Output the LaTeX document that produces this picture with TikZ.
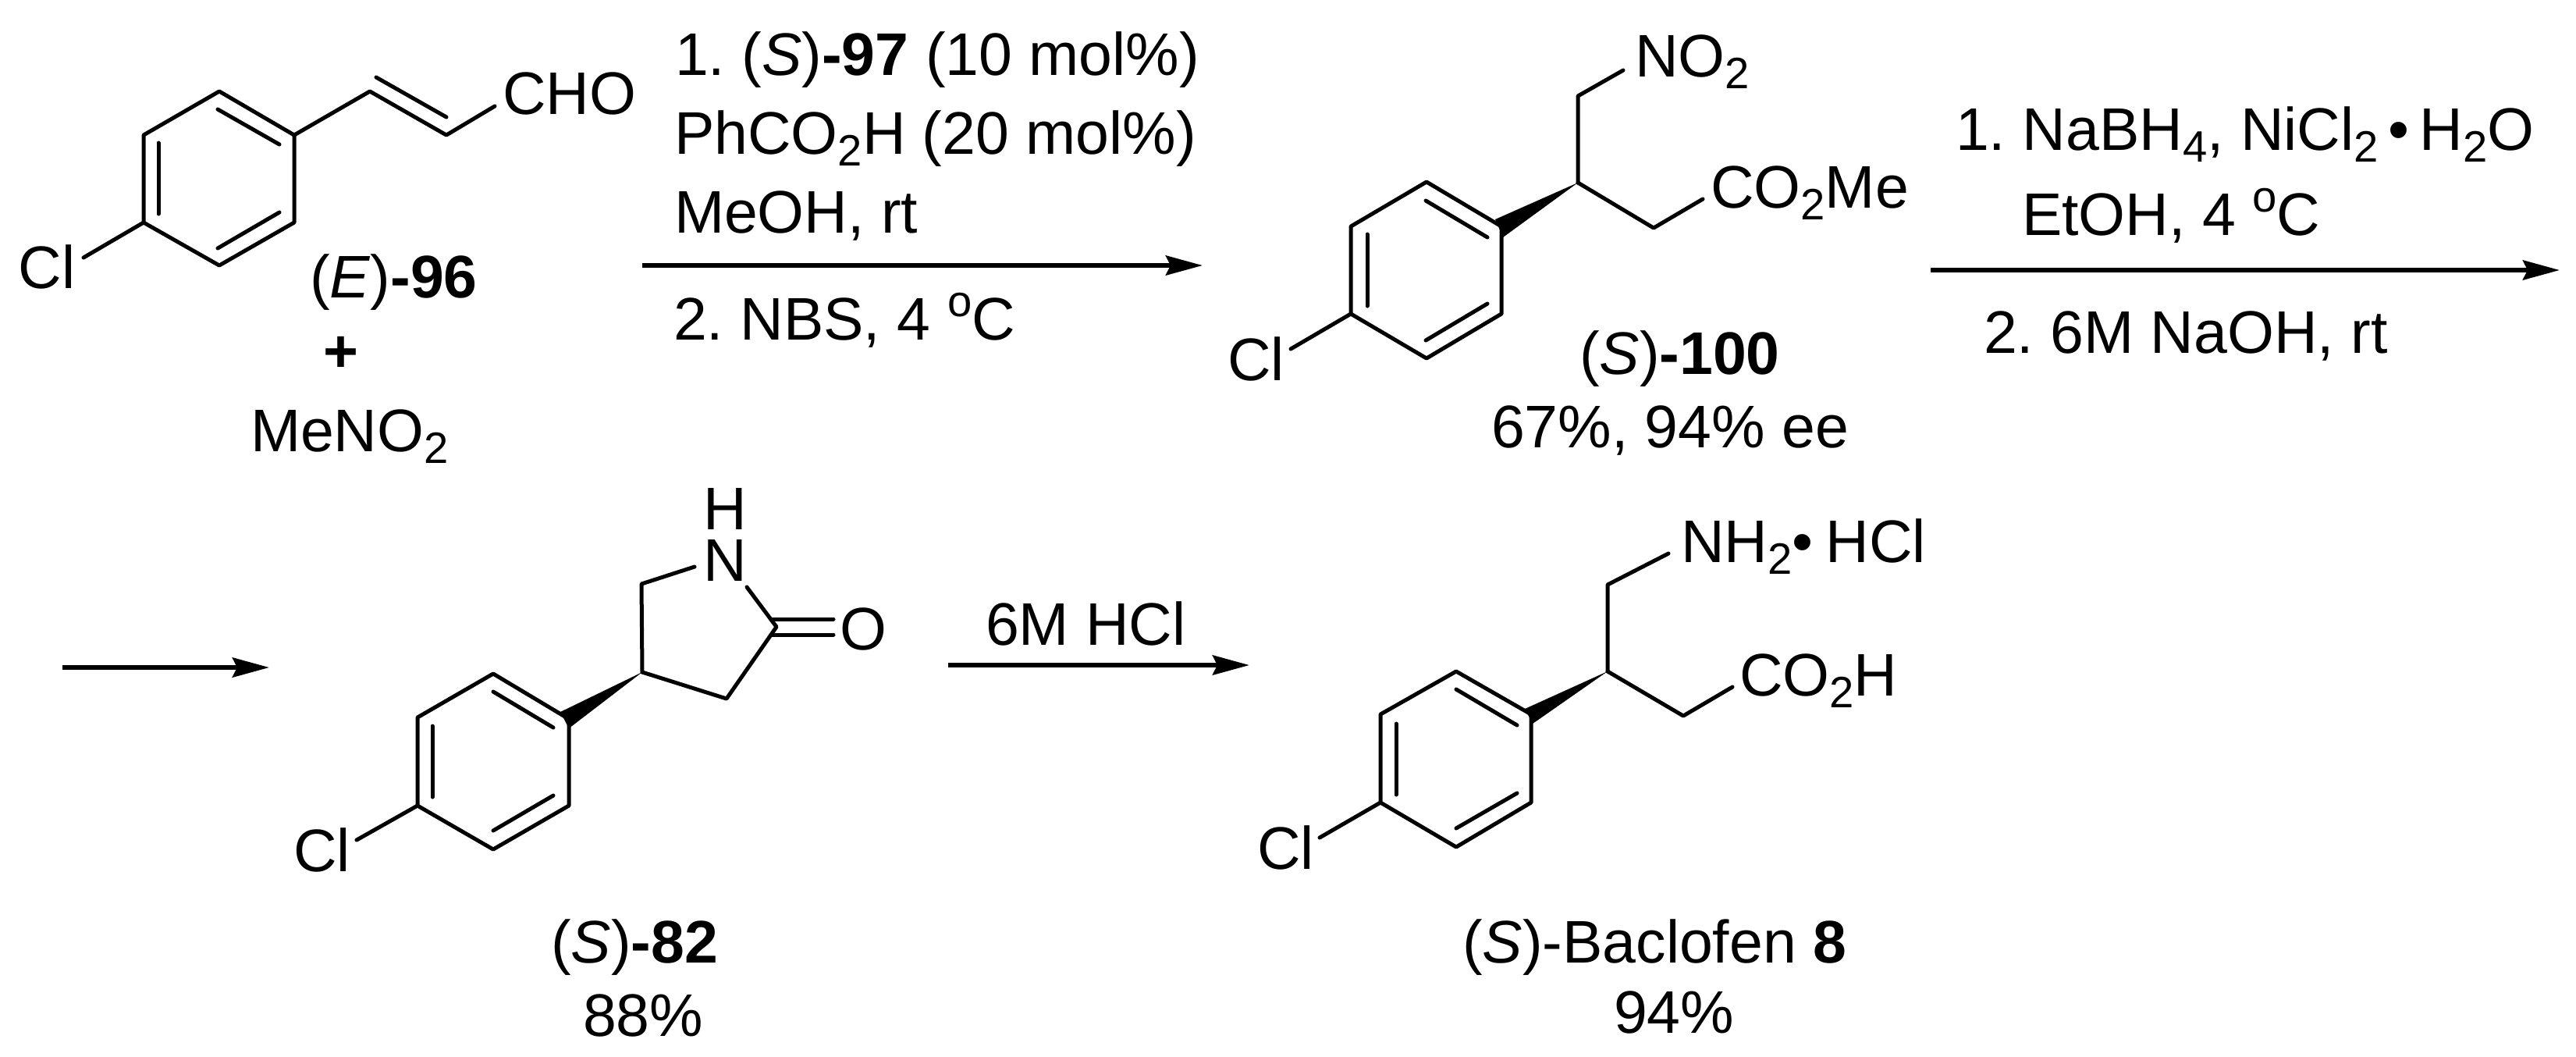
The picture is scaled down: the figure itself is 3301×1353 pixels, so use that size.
\documentclass[tikz,border=0pt]{standalone}
\usepackage{fontspec}
\setmainfont{Liberation Sans}
\usetikzlibrary{arrows.meta}
\frenchspacing
\begin{document}
\begin{tikzpicture}[x=0.01cm,y=-0.01cm,
  bond/.style={line width=0.05cm,line cap=round,line join=round},
  rxn/.style={line width=0.06cm,-{Stealth[length=0.47cm,width=0.25cm,inset=0.06cm]}},
  lab/.style={anchor=base west,inner sep=0pt,outer sep=0pt,font=\fontsize{21.9}{26}\selectfont}]
\newcommand{\myfontsub}[1]{%
\raisebox{-0.15cm}{\fontsize{16}{20}\selectfont{#1}}%
}\newcommand{\myfontsup}[1]{%
\raisebox{0.3cm}{\fontsize{16}{20}\selectfont{#1}}%
}%Page
\useasboundingbox (0,0) rectangle (3301,1353);
%Aldehyde: ring
\coordinate (a1) at (281,117);
\coordinate (a2) at (377,173);
\coordinate (a3) at (377,285);
\coordinate (a4) at (281,340);
\coordinate (a5) at (184,285);
\coordinate (a6) at (184,173);
\draw [bond] (a1) -- (a2) -- (a3) -- (a4) -- (a5) -- (a6) -- cycle;
%Aldehyde: inner lines of the ring
\coordinate (ai1) at (279,140);
\coordinate (ai2) at (358,185);
\coordinate (ai3) at (358,272);
\coordinate (ai4) at (279,318);
\coordinate (ai5) at (203,274);
\coordinate (ai6) at (203,183);
\draw [bond] (ai1) -- (ai2);
\draw [bond] (ai3) -- (ai4);
\draw [bond] (ai5) -- (ai6);
%Aldehyde: side chain
\coordinate (v1) at (474,117);
\coordinate (v2) at (572,173);
\coordinate (v3) at (634,136);
\coordinate (vi1) at (482,99);
\coordinate (vi2) at (572,150);
\coordinate (acl) at (107,330);
\draw [bond] (a2) -- (v1) -- (v2) -- (v3);
\draw [bond] (vi1) -- (vi2);
\draw [bond] (a5) -- (acl);
\node [lab] (cho) at (644,146) {CHO};
\node [lab] (clA) at (24,369) {Cl};
\node [lab] (nameA) at (397,381) {(\textit{E})\textbf{-96}};
\node [lab] (plus) at (414,476) {\textbf{+}};
\node [lab] (meno) at (321,578) {MeNO\myfontsub{2}};
%First arrow
\coordinate (r1s) at (823,340);
\coordinate (r1e) at (1541,340);
\draw [rxn] (r1s) -- (r1e);
\node [lab] (r1a) at (865,96) {1. (\textit{S})\textbf{-97} (10 mol\%)};
\node [lab] (r1b) at (864,197) {PhCO\myfontsub{2}H (20 mol\%)};
\node [lab] (r1c) at (864,298) {MeOH, rt};
\node [lab] (r1d) at (863,435) {2. NBS, 4 \myfontsup{o}C};
%Nitro ester: ring
\coordinate (b1) at (1828,233);
\coordinate (b2) at (1924,290);
\coordinate (b3) at (1924,402);
\coordinate (b4) at (1828,459);
\coordinate (b5) at (1731,402);
\coordinate (b6) at (1731,290);
\draw [bond] (b1) -- (b2) -- (b3) -- (b4) -- (b5) -- (b6) -- cycle;
%Nitro ester: inner lines of the ring
\coordinate (bi1) at (1827,257);
\coordinate (bi2) at (1906,304);
\coordinate (bi3) at (1906,389);
\coordinate (bi4) at (1827,436);
\coordinate (bi5) at (1752,392);
\coordinate (bi6) at (1752,300);
\draw [bond] (bi1) -- (bi2);
\draw [bond] (bi3) -- (bi4);
\draw [bond] (bi5) -- (bi6);
%Nitro ester: wedge and chains
\coordinate (bs) at (2022,234);
\coordinate (bw1) at (1916,281);
\coordinate (bw2) at (1926,304);
\fill (bs) -- (bw1) -- (bw2) -- cycle;
\coordinate (bn1) at (2022,123);
\coordinate (bn2) at (2080,90);
\coordinate (be1) at (2119,292);
\coordinate (be2) at (2182,255);
\coordinate (bcl) at (1654,447);
\draw [bond] (bs) -- (bn1) -- (bn2);
\draw [bond] (bs) -- (be1) -- (be2);
\draw [bond] (b5) -- (bcl);
\node [lab] (nitro) at (2095,98) {NO\myfontsub{2}};
\node [lab] (ester) at (2192,266) {CO\myfontsub{2}Me};
\node [lab] (clB) at (1573,487) {Cl};
\node [lab] (nameB) at (2024,479) {(\textit{S})\textbf{-100}};
\node [lab] (yieldB) at (1911,573) {67\%, 94\% ee};
%Second arrow
\coordinate (r2s) at (2474,346);
\coordinate (r2e) at (3280,346);
\draw [rxn] (r2s) -- (r2e);
\node [lab] (r2a) at (2506,192) {1. NaBH\myfontsub{4}, NiCl\myfontsub{2}\,•\,H\myfontsub{2}O};
\node [lab] (r2b) at (2591,301) {EtOH, 4 \myfontsup{o}C};
\node [lab] (r2c) at (2542,452) {2. 6M NaOH, rt};
%Third arrow
\coordinate (r3s) at (80,855);
\coordinate (r3e) at (345,855);
\draw [rxn] (r3s) -- (r3e);
%Lactam: ring
\coordinate (c1) at (632,863);
\coordinate (c2) at (729,921);
\coordinate (c3) at (729,1032);
\coordinate (c4) at (632,1088);
\coordinate (c5) at (535,1032);
\coordinate (c6) at (535,919);
\draw [bond] (c1) -- (c2) -- (c3) -- (c4) -- (c5) -- (c6) -- cycle;
%Lactam: inner lines of the ring
\coordinate (ci1) at (632,886);
\coordinate (ci2) at (709,932);
\coordinate (ci3) at (709,1019);
\coordinate (ci4) at (632,1064);
\coordinate (ci5) at (554,1021);
\coordinate (ci6) at (554,930);
\draw [bond] (ci1) -- (ci2);
\draw [bond] (ci3) -- (ci4);
\draw [bond] (ci5) -- (ci6);
%Lactam: wedge and five ring
\coordinate (cs) at (823,861);
\coordinate (cw1) at (718,912);
\coordinate (cw2) at (729,933);
\fill (cs) -- (cw1) -- (cw2) -- cycle;
\coordinate (cp1) at (822,748);
\coordinate (cp2) at (890,726);
\coordinate (cp3) at (957,752);
\coordinate (cp4) at (995,803);
\coordinate (cp5) at (931,895);
\coordinate (co1) at (988,793);
\coordinate (co2) at (1068,793);
\coordinate (co3) at (988,813);
\coordinate (co4) at (1068,813);
\coordinate (ccl) at (457,1076);
\draw [bond] (cs) -- (cp1) -- (cp2);
\draw [bond] (cp3) -- (cp4) -- (cp5) -- (cs);
\draw [bond] (co1) -- (co2);
\draw [bond] (co3) -- (co4);
\draw [bond] (c5) -- (ccl);
\node [lab] (nh) at (901,744) {N};
\node [lab] (hn) at (901,678) {H};
\node [lab] (oxo) at (1076,832) {O};
\node [lab] (clC) at (376,1116) {Cl};
\node [lab] (nameC) at (706,1233) {(\textit{S})\textbf{-82}};
\node [lab] (yieldC) at (747,1327) {88\%};
%Fourth arrow
\coordinate (r4s) at (1215,852);
\coordinate (r4e) at (1601,852);
\draw [rxn] (r4s) -- (r4e);
\node [lab] (r4a) at (1263,826) {6M HCl};
%Baclofen: ring
\coordinate (d1) at (1866,860);
\coordinate (d2) at (1962,915);
\coordinate (d3) at (1962,1028);
\coordinate (d4) at (1866,1085);
\coordinate (d5) at (1769,1028);
\coordinate (d6) at (1769,915);
\draw [bond] (d1) -- (d2) -- (d3) -- (d4) -- (d5) -- (d6) -- cycle;
%Baclofen: inner lines of the ring
\coordinate (di1) at (1866,883);
\coordinate (di2) at (1944,929);
\coordinate (di3) at (1944,1016);
\coordinate (di4) at (1866,1061);
\coordinate (di5) at (1789,1018);
\coordinate (di6) at (1789,927);
\draw [bond] (di1) -- (di2);
\draw [bond] (di3) -- (di4);
\draw [bond] (di5) -- (di6);
%Baclofen: wedge and chains
\coordinate (ds) at (2060,860);
\coordinate (dw1) at (1954,908);
\coordinate (dw2) at (1964,927);
\fill (ds) -- (dw1) -- (dw2) -- cycle;
\coordinate (dn1) at (2060,749);
\coordinate (dn2) at (2138,709);
\coordinate (de1) at (2157,917);
\coordinate (de2) at (2220,880);
\coordinate (dcl) at (1691,1073);
\draw [bond] (ds) -- (dn1) -- (dn2);
\draw [bond] (ds) -- (de1) -- (de2);
\draw [bond] (d5) -- (dcl);
\node [lab] (amine) at (2154,720) {NH\myfontsub{2}•\hspace{0.16cm}HCl};
\node [lab] (acid) at (2229,891) {CO\myfontsub{2}H};
\node [lab] (clD) at (1611,1113) {Cl};
\node [lab] (nameD) at (1874,1233) {(\textit{S})-Baclofen \textbf{8}};
\node [lab] (yieldD) at (2068,1323) {94\%};
\end{tikzpicture}
\end{document}
